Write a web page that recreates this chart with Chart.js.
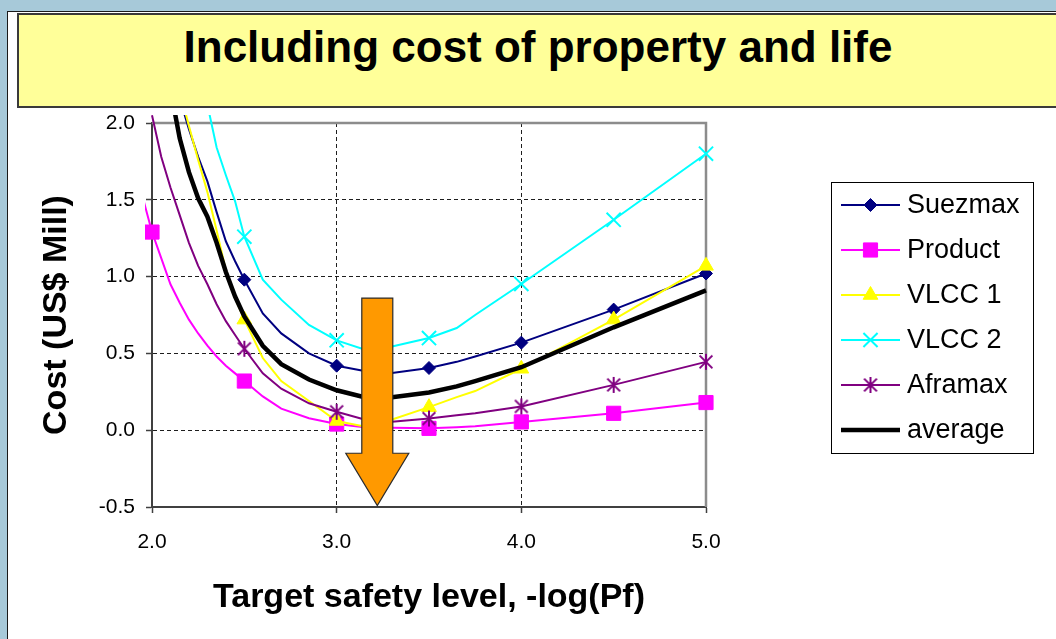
<!DOCTYPE html>
<html>
<head>
<meta charset="utf-8">
<script src="https://cdn.jsdelivr.net/npm/chart.js@4.4.1/dist/chart.umd.min.js"></script>
<style>
  html, body { margin: 0; padding: 0; }
  body {
    width: 1056px; height: 639px; overflow: hidden; position: relative;
    background: #a7c9d9;
    font-family: Arial, "Liberation Sans", sans-serif;
  }
  #panel {
    position: absolute; left: 7px; top: 11px; width: 1060px; height: 640px;
    background: #ffffff; border-left: 1px solid #1a1a1a; border-top: 1px solid #1a1a1a;
  }
  #banner {
    position: absolute; left: 17px; top: 13px; width: 1050px; height: 91px;
    background: #ffff99; border: 2px solid #3a3a3a;
  }
  #title {
    position: absolute; left: 0; top: 22px; width: 1076px; text-align: center;
    font-weight: bold; font-size: 44px; line-height: 50px; color: #000;
  }
  #chart { position: absolute; left: 0; top: 0; }
</style>
</head>
<body>
<div id="panel"></div>
<div id="banner"></div>
<div id="title">Including cost of property and life</div>
<canvas id="chart" width="1056" height="639"></canvas>
<script>
// Target safety level, -log(Pf), shared by every series
const safetyLevel = [1.9, 2.0, 2.05, 2.1, 2.15, 2.2, 2.25, 2.3, 2.35, 2.4, 2.45, 2.5, 2.6, 2.7, 2.85, 3.0, 3.15, 3.3, 3.5, 3.65, 3.75, 4.0, 4.5, 5.0];

// Cost in US$ million for each ship type
const suezmax = [null, 2.9, 2.62, 2.38, 2.16, 1.96, 1.78, 1.62, 1.42, 1.23, 1.10, 0.98, 0.76, 0.63, 0.50, 0.42, 0.385, 0.372, 0.405, 0.445, 0.48, 0.57, 0.785, 1.02];
const product = [1.74, 1.29, 1.12, 0.95, 0.83, 0.72, 0.63, 0.55, 0.48, 0.42, 0.37, 0.32, 0.22, 0.14, 0.078, 0.04, 0.02, 0.016, 0.012, 0.02, 0.026, 0.054, 0.11, 0.18];
const vlcc1 = [null, 3.0, 2.72, 2.45, 2.21, 1.98, 1.76, 1.55, 1.30, 1.04, 0.86, 0.72, 0.47, 0.32, 0.19, 0.06, 0.025, 0.07, 0.15, 0.215, 0.255, 0.40, 0.72, 1.07];
const vlcc2 = [null, 4.0, 3.6, 3.25, 2.9, 2.6, 2.35, 2.12, 1.84, 1.66, 1.49, 1.26, 0.98, 0.85, 0.685, 0.585, 0.525, 0.545, 0.60, 0.665, 0.75, 0.952, 1.37, 1.80];
const aframax = [null, 2.05, 1.78, 1.58, 1.40, 1.22, 1.07, 0.95, 0.82, 0.71, 0.62, 0.53, 0.37, 0.27, 0.175, 0.12, 0.07, 0.055, 0.076, 0.098, 0.11, 0.155, 0.295, 0.445];
const average = [null, 3.1, 2.6, 2.22, 1.90, 1.68, 1.51, 1.39, 1.22, 1.03, 0.87, 0.74, 0.55, 0.43, 0.33, 0.26, 0.215, 0.215, 0.245, 0.285, 0.32, 0.41, 0.67, 0.91];

// Axis tick labels
const xTickValues = [2.0, 3.0, 4.0, 5.0];
const yTickValues = [-0.5, 0.0, 0.5, 1.0, 1.5, 2.0];

// Arrow marking the optimum region (axis units)
const arrowAt = { x: 3.22, top: 0.86, headBase: -0.15, tip: -0.49 };

const Y_MIN = -0.5, Y_MAX = 2.0;
const FONT = 'Arial, "Liberation Sans", sans-serif';

// Asterisk marker: vertical stroke plus two diagonals
function asteriskMarker(color, size) {
  const c = document.createElement('canvas');
  c.width = size; c.height = size;
  const g = c.getContext('2d');
  g.strokeStyle = color; g.lineWidth = 2;
  const m = size / 2, r = size / 2 - 1, d = r * 0.8;
  g.beginPath();
  g.moveTo(m, m - r); g.lineTo(m, m + r);
  g.moveTo(m - d, m - d); g.lineTo(m + d, m + d);
  g.moveTo(m + d, m - d); g.lineTo(m - d, m + d);
  g.stroke();
  return c;
}

const toPoints = values => safetyLevel.map((x, i) => ({ x, y: values[i] }));

// Markers sit on the half-unit safety levels inside the value range
function markerShown(ctx) {
  const p = ctx.raw;
  if (!p || p.y === null) return false;
  const onStep = Math.abs(p.x * 2 - Math.round(p.x * 2)) < 1e-9;
  return onStep && p.y >= Y_MIN && p.y <= Y_MAX;
}

function series(label, values, color, style, radius, width, fill) {
  return {
    label,
    data: toPoints(values),
    borderColor: color,
    backgroundColor: fill || color,
    borderWidth: width,
    pointStyle: style,
    markerRadius: radius,
    pointRadius: ctx => (style && markerShown(ctx)) ? radius : 0,
    pointHoverRadius: 0,
    pointBorderWidth: style === 'crossRot' ? 2 : 1,
    pointBackgroundColor: fill || color,
    pointBorderColor: color,
    tension: 0,
    fill: false,
    clip: { left: 7, top: 8, right: 14, bottom: 8 }
  };
}

const datasets = [
  series('Suezmax', suezmax, '#000080', 'rectRot', 6.5, 2),
  series('Product', product, '#ff00ff', 'rect', 10, 2),
  series('VLCC 1', vlcc1, '#ffff00', 'triangle', 8.5, 2),
  series('VLCC 2', vlcc2, '#00ffff', 'crossRot', 10, 2),
  series('Aframax', aframax, '#800080', asteriskMarker('#800080', 18), 9, 2),
  series('average', average, '#000000', false, 0, 4.5)
];
datasets.forEach((d, i) => { d.order = datasets.length - i; });

// Grey frame on the top and right of the plot area
const framePlugin = {
  id: 'frame',
  beforeDatasetsDraw(chart) {
    const { ctx, chartArea: a } = chart;
    ctx.save();
    ctx.strokeStyle = '#8c8c8c';
    ctx.lineWidth = 2.5;
    ctx.beginPath();
    ctx.moveTo(a.left, a.top);
    ctx.lineTo(a.right, a.top);
    ctx.lineTo(a.right, a.bottom);
    ctx.stroke();
    ctx.restore();
  }
};

// Orange down arrow placed in axis units
const arrowPlugin = {
  id: 'arrow',
  afterDatasetsDraw(chart) {
    const { ctx, scales: { x, y } } = chart;
    const cx = x.getPixelForValue(arrowAt.x);
    const top = y.getPixelForValue(arrowAt.top);
    const base = y.getPixelForValue(arrowAt.headBase);
    const tip = y.getPixelForValue(arrowAt.tip);
    const shaft = 15.5, head = 31.5;
    ctx.save();
    ctx.beginPath();
    ctx.moveTo(cx - shaft, top);
    ctx.lineTo(cx + shaft, top);
    ctx.lineTo(cx + shaft, base);
    ctx.lineTo(cx + head, base);
    ctx.lineTo(cx, tip);
    ctx.lineTo(cx - head, base);
    ctx.lineTo(cx - shaft, base);
    ctx.closePath();
    ctx.fillStyle = '#ff9900';
    ctx.fill();
    ctx.strokeStyle = '#2b2b2b';
    ctx.lineWidth = 1.2;
    ctx.stroke();
    ctx.restore();
  }
};

// Boxed legend with line-and-marker samples
const legendPlugin = {
  id: 'boxLegend',
  afterDraw(chart, args, opts) {
    const { ctx } = chart;
    const b = opts.box;
    ctx.save();
    ctx.fillStyle = '#ffffff';
    ctx.fillRect(b.left, b.top, b.width, b.height);
    ctx.strokeStyle = '#000000';
    ctx.lineWidth = 1;
    ctx.strokeRect(b.left + 0.5, b.top + 0.5, b.width, b.height);
    ctx.font = opts.fontSize + 'px ' + FONT;
    ctx.textBaseline = 'middle';
    ctx.textAlign = 'left';
    chart.data.datasets.forEach((d, i) => {
      const yy = opts.firstRow + i * opts.rowGap;
      ctx.strokeStyle = d.borderColor;
      ctx.lineWidth = d.borderWidth;
      ctx.beginPath();
      ctx.moveTo(opts.sampleLeft, yy);
      ctx.lineTo(opts.sampleRight, yy);
      ctx.stroke();
      if (d.pointStyle) {
        ctx.fillStyle = d.pointBackgroundColor;
        ctx.strokeStyle = d.pointBorderColor;
        ctx.lineWidth = d.pointBorderWidth;
        Chart.helpers.drawPoint(ctx, {
          pointStyle: d.pointStyle, radius: d.markerRadius, rotation: 0, borderWidth: d.pointBorderWidth
        }, (opts.sampleLeft + opts.sampleRight) / 2, yy);
      }
      ctx.fillStyle = '#000000';
      ctx.fillText(d.label, opts.textLeft, yy + 1);
    });
    ctx.restore();
  }
};

const hideEnds = (vals) => (c) => {
  const v = c.tick ? c.tick.value : null;
  return (v === vals[0] || v === vals[vals.length - 1]) ? 'rgba(0,0,0,0)' : '#1e1e1e';
};

new Chart(document.getElementById('chart'), {
  type: 'line',
  data: { datasets },
  plugins: [framePlugin, arrowPlugin, legendPlugin],
  options: {
    responsive: false,
    animation: false,
    events: [],
    layout: { padding: { top: 123, right: 350, left: 0, bottom: 0 } },
    plugins: {
      legend: { display: false },
      tooltip: { enabled: false },
      boxLegend: {
        box: { left: 831, top: 182, width: 202, height: 271 },
        firstRow: 205, rowGap: 45,
        sampleLeft: 841, sampleRight: 900, textLeft: 907, fontSize: 27
      }
    },
    scales: {
      x: {
        type: 'linear',
        min: 2.0, max: 5.0,
        afterBuildTicks: s => { s.ticks = xTickValues.map(value => ({ value })); },
        afterFit: s => { s.height = 132; },
        ticks: {
          callback: v => Number(v).toFixed(1),
          font: { size: 21, family: FONT },
          color: '#000',
          padding: 17,
          maxRotation: 0
        },
        grid: {
          color: hideEnds(xTickValues),
          lineWidth: 1,
          tickLength: 6,
          tickColor: '#404040',
          tickWidth: 1.5,
          tickBorderDash: []
        },
        border: { display: true, color: '#404040', width: 2, dash: [4, 3] },
        title: {
          display: true,
          text: 'Target safety level, -log(Pf)',
          font: { size: 34, weight: 'bold', family: FONT },
          color: '#000',
          padding: { top: 0, bottom: 21 }
        }
      },
      y: {
        type: 'linear',
        min: Y_MIN, max: Y_MAX,
        afterBuildTicks: s => { s.ticks = yTickValues.map(value => ({ value })); },
        afterFit: s => { s.width = 152; },
        ticks: {
          callback: v => Number(v).toFixed(1),
          font: { size: 21, family: FONT },
          color: '#000',
          padding: 11
        },
        grid: {
          color: hideEnds(yTickValues),
          lineWidth: 1,
          tickLength: 6,
          tickColor: '#404040',
          tickWidth: 1.5,
          tickBorderDash: []
        },
        border: { display: true, color: '#404040', width: 2, dash: [4, 3] },
        title: {
          display: true,
          text: 'Cost (US$ Mill)',
          font: { size: 34, weight: 'bold', family: FONT },
          color: '#000',
          padding: { top: 36, bottom: 0 }
        }
      }
    }
  }
});
</script>
</body>
</html>
